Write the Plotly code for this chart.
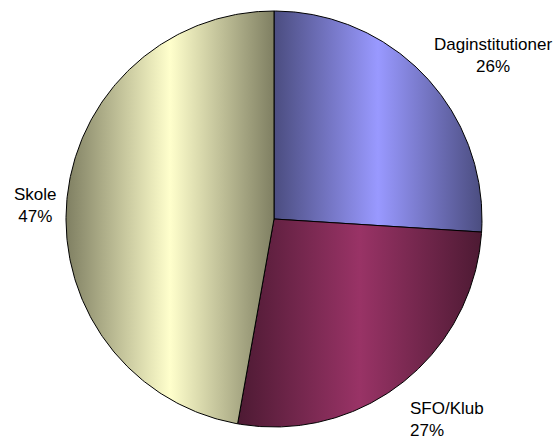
"""
Pie chart with Excel-style horizontal shading on each slice.
Slices are drawn as filled scatter polygons so fillgradient can be used.
"""

import numpy as np
import plotly.graph_objects as go

# Data
labels = ["Daginstitutioner", "SFO/Klub", "Skole"]
shares = [26.0, 26.8, 47.2]

# Slice colours: centre (light) and edge (dark) of the gradient
light_colors = ["#9999ff", "#993366", "#ffffcc"]
dark_colors = ["#4b4d80", "#4d1a33", "#7f7f62"]

# Label placement in pixels (x, y of block centre) and text alignment
W, H = 556, 443
label_pos = [(493, 55, "center"), (408, 419, "left"), (35, 205, "center")]

# Pie centre / radius in pixels -> used to set the axis ranges
CX, CY, R = 274, 219, 208

fig = go.Figure()

total = sum(shares)
start = 0.0
for lab, val, lc, dc in zip(labels, shares, light_colors, dark_colors):
    a0 = start / total * 2 * np.pi
    a1 = (start + val) / total * 2 * np.pi
    t = np.linspace(a0, a1, 240)
    x = np.concatenate([[0.0], np.sin(t), [0.0]])
    y = np.concatenate([[0.0], np.cos(t), [0.0]])
    fig.add_trace(go.Scatter(
        x=x, y=y,
        mode="lines",
        fill="toself",
        line=dict(color="black", width=1),
        fillgradient=dict(
            type="horizontal",
            colorscale=[[0, dc], [0.5, lc], [1, dc]],
        ),
        name=lab,
        hoverinfo="name",
        showlegend=False,
    ))
    start += val

annotations = []
for lab, val, (px, py, al) in zip(labels, shares, label_pos):
    annotations.append(dict(
        text=f"{lab}<br>{val / total * 100:.0f}%",
        xref="paper", yref="paper",
        x=px / W,
        y=1 - py / H,
        xanchor="center" if al == "center" else "left",
        yanchor="middle",
        align=al,
        showarrow=False,
        font=dict(family="Liberation Sans, Arial, sans-serif", size=17, color="black"),
    ))

fig.update_layout(
    width=W,
    height=H,
    margin=dict(l=0, r=0, t=0, b=0),
    paper_bgcolor="white",
    plot_bgcolor="white",
    xaxis=dict(
        range=[-CX / R, (W - CX) / R],
        visible=False,
        fixedrange=True,
    ),
    yaxis=dict(
        range=[-(H - CY) / R, CY / R],
        visible=False,
        fixedrange=True,
    ),
    annotations=annotations,
)

# drop the browser's default body margin so the figure sits at the page corner
fig.write_html(
    "out.html",
    config={"displayModeBar": False},
    post_script="document.body.style.margin='0';document.body.style.overflow='hidden';",
)
